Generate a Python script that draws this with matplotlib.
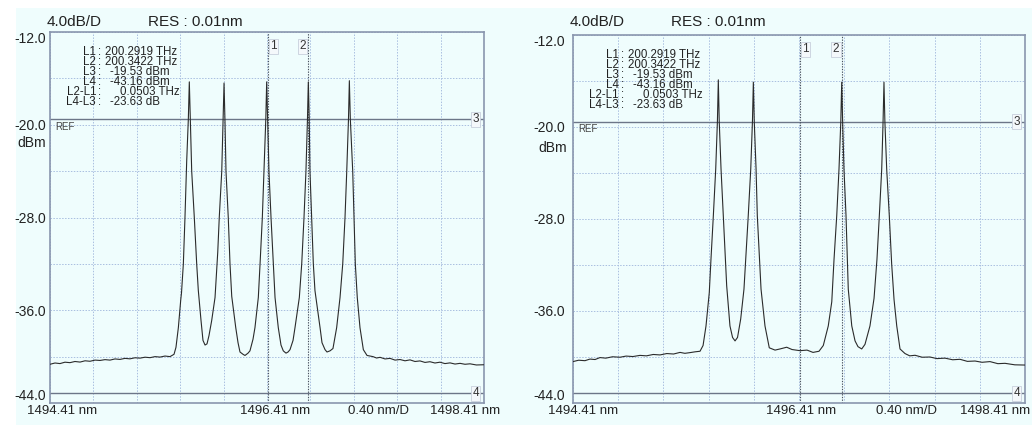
import matplotlib.pyplot as plt
import matplotlib.transforms as mtransforms
from matplotlib.patches import Rectangle
import numpy as np

# ---- data ----
x_start, x_center, x_stop = 1494.41, 1496.41, 1498.41
y_top, y_bottom = -12.0, -44.0
y_labels = ["-44.0", "", "-36.0", "", "-28.0", "", "-20.0", "", "-12.0"]

L3 = -19.53
L4 = -43.16
marker1 = 1496.415
marker2 = 1496.791

info_keys = ["L1", "L2", "L3", "L4", "L2-L1", "L4-L3"]
info_vals = ["200.2919 THz", "200.3422 THz", "-19.53 dBm", "-43.16 dBm",
             "0.0503 THz", "-23.63 dB"]

left_wl = [1494.410, 1494.456, 1494.502, 1494.548, 1494.594, 1494.640, 1494.687,
           1494.733, 1494.779, 1494.825, 1494.871, 1494.917, 1494.963, 1495.009,
           1495.055, 1495.101, 1495.147, 1495.193, 1495.240, 1495.286, 1495.332,
           1495.378, 1495.424, 1495.470, 1495.516, 1495.553, 1495.571, 1495.593,
           1495.615, 1495.622, 1495.639, 1495.654, 1495.670, 1495.685, 1495.694,
           1495.703, 1495.716, 1495.740, 1495.762, 1495.777, 1495.802, 1495.820,
           1495.839, 1495.857, 1495.875, 1495.900, 1495.931, 1495.956, 1495.970,
           1495.993, 1496.005, 1496.014, 1496.023, 1496.032, 1496.053, 1496.069,
           1496.085, 1496.122, 1496.143, 1496.161, 1496.189, 1496.207, 1496.235,
           1496.253, 1496.281, 1496.299, 1496.330, 1496.346, 1496.367, 1496.382,
           1496.399, 1496.407, 1496.416, 1496.428, 1496.447, 1496.468, 1496.484,
           1496.514, 1496.539, 1496.560, 1496.585, 1496.604, 1496.622, 1496.650,
           1496.668, 1496.708, 1496.730, 1496.751, 1496.769, 1496.783, 1496.791,
           1496.799, 1496.806, 1496.822, 1496.837, 1496.852, 1496.899, 1496.917,
           1496.945, 1496.963, 1496.991, 1497.018, 1497.037, 1497.052, 1497.083,
           1497.108, 1497.129, 1497.145, 1497.161, 1497.169, 1497.178, 1497.200,
           1497.212, 1497.224, 1497.242, 1497.267, 1497.298, 1497.332, 1497.387,
           1497.420, 1497.452, 1497.498, 1497.544, 1497.590, 1497.636, 1497.682,
           1497.728, 1497.774, 1497.820, 1497.866, 1497.912, 1497.958, 1498.004,
           1498.050, 1498.097, 1498.143, 1498.189, 1498.235, 1498.281, 1498.340,
           1498.410]
left_db = [-40.66, -40.55, -40.60, -40.48, -40.52, -40.42, -40.47,
           -40.36, -40.40, -40.30, -40.33, -40.26, -40.30, -40.20,
           -40.24, -40.15, -40.19, -40.10, -40.13, -40.05, -40.09,
           -40.00, -40.04, -39.95, -40.00, -39.80, -39.20, -37.50,
           -35.10, -34.50, -32.00, -28.00, -23.10, -19.50, -16.30,
           -19.50, -24.00, -28.00, -32.00, -34.30, -36.90, -38.60,
           -39.00, -38.90, -38.20, -36.90, -34.90, -31.00, -28.00,
           -24.00, -19.50, -16.40, -19.80, -24.00, -28.00, -32.00,
           -34.80, -37.50, -38.80, -39.60, -39.80, -39.90, -39.70,
           -39.50, -38.50, -37.50, -34.90, -32.00, -28.00, -24.00,
           -19.50, -16.30, -19.50, -24.00, -28.00, -32.00, -34.90,
           -37.50, -39.00, -39.50, -39.70, -39.60, -39.40, -38.60,
           -37.50, -34.90, -32.00, -28.00, -24.00, -19.50, -16.30,
           -19.50, -24.00, -28.00, -32.00, -34.30, -37.50, -38.80,
           -39.40, -39.60, -39.50, -39.30, -38.30, -37.50, -34.90,
           -32.00, -28.00, -24.00, -19.50, -16.20, -19.50, -24.00,
           -28.00, -32.00, -34.90, -37.50, -39.40, -39.90, -40.00,
           -40.12, -40.06, -40.20, -40.15, -40.30, -40.25, -40.36,
           -40.28, -40.42, -40.37, -40.50, -40.44, -40.55, -40.48,
           -40.60, -40.54, -40.64, -40.58, -40.66, -40.62, -40.72,
           -40.70]

right_wl = [1494.410, 1494.460, 1494.516, 1494.560, 1494.605, 1494.649, 1494.700,
            1494.760, 1494.826, 1494.880, 1494.940, 1495.003, 1495.060, 1495.120,
            1495.180, 1495.240, 1495.300, 1495.357, 1495.400, 1495.445, 1495.490,
            1495.534, 1495.561, 1495.587, 1495.616, 1495.631, 1495.652, 1495.673,
            1495.688, 1495.696, 1495.704, 1495.720, 1495.740, 1495.770, 1495.799,
            1495.822, 1495.844, 1495.866, 1495.894, 1495.923, 1495.961, 1495.983,
            1495.998, 1496.006, 1496.014, 1496.030, 1496.041, 1496.074, 1496.109,
            1496.147, 1496.198, 1496.242, 1496.301, 1496.348, 1496.419, 1496.481,
            1496.534, 1496.587, 1496.625, 1496.669, 1496.700, 1496.720, 1496.744,
            1496.764, 1496.780, 1496.788, 1496.796, 1496.808, 1496.826, 1496.846,
            1496.877, 1496.906, 1496.932, 1496.965, 1496.994, 1497.038, 1497.074,
            1497.100, 1497.121, 1497.142, 1497.154, 1497.162, 1497.170, 1497.186,
            1497.209, 1497.230, 1497.251, 1497.275, 1497.304, 1497.348, 1497.390,
            1497.437, 1497.500, 1497.569, 1497.630, 1497.702, 1497.770, 1497.835,
            1497.900, 1497.968, 1498.030, 1498.100, 1498.170, 1498.233, 1498.320,
            1498.410]
right_db = [-40.40, -40.28, -40.32, -40.18, -40.22, -40.05, -40.10,
            -39.98, -40.02, -39.92, -39.96, -39.86, -39.90, -39.78,
            -39.82, -39.70, -39.74, -39.60, -39.68, -39.62, -39.55,
            -39.50, -39.00, -37.30, -34.40, -31.50, -27.70, -23.65,
            -19.50, -15.90, -19.50, -23.65, -27.70, -33.80, -37.30,
            -38.30, -38.60, -38.30, -36.70, -34.10, -27.70, -23.65,
            -19.50, -16.10, -19.50, -23.65, -27.70, -34.10, -37.30,
            -39.20, -39.40, -39.30, -39.15, -39.35, -39.45, -39.40,
            -39.60, -39.50, -39.00, -37.30, -35.20, -31.50, -27.70,
            -23.65, -19.50, -16.10, -19.50, -23.65, -27.70, -34.10,
            -37.30, -38.60, -39.10, -39.30, -38.90, -37.30, -34.90,
            -31.50, -27.70, -23.65, -19.50, -16.10, -19.50, -23.65,
            -27.70, -31.90, -35.00, -37.30, -39.30, -39.70, -39.90,
            -39.85, -40.02, -40.00, -40.14, -40.10, -40.24, -40.20,
            -40.38, -40.35, -40.46, -40.40, -40.58, -40.55, -40.68,
            -40.70]

W, H = 1032, 425
bg = "#effdfd"
grid_c = "#a9bfe0"
frame_c = "#8a96ae"
line_c = "#6c7688"
trace_c = "#2b2b2b"
txt_c = "#222222"
font = ["Liberation Sans", "DejaVu Sans"]

fig = plt.figure(figsize=(W / 100, H / 100), dpi=100)
fig.patch.set_facecolor("white")
fig.patches.append(Rectangle((16 / W, 0), (W - 16) / W, 1 - 8 / H,
                             transform=fig.transFigure, facecolor=bg,
                             edgecolor="none", zorder=-10))


def fx(x):
    return x / W


def fy(y):
    return 1 - y / H


def panel(frame, wl, db, opts):
    x0, y0, x1, y1 = frame
    ax = fig.add_axes([fx(x0), fy(y1), fx(x1 - x0), (y1 - y0) / H])
    ax.set_facecolor("none")
    ax.set_xlim(x_start, x_stop)
    ax.set_ylim(y_bottom, y_top)
    ax.set_xticks(np.linspace(x_start, x_stop, 11))
    ax.set_xticklabels([])
    ax.set_yticks(np.arange(y_bottom, y_top + 1, 4))
    ax.set_yticklabels(y_labels, family=font, fontsize=10, color=txt_c)
    ax.tick_params(length=0, pad=opts["ypad"])
    labs = ax.get_yticklabels()
    labs[0].set_va("bottom")
    labs[-1].set_va("top")
    ax.grid(True, color=grid_c, lw=0.7, ls=(0, (1.5, 1.5)))
    for s in ax.spines.values():
        s.set_color(frame_c)
        s.set_linewidth(1.2)

    ax.plot(wl, db, color=trace_c, lw=0.8, zorder=3)

    # level markers L3 / L4
    ax.axhline(L3, color=line_c, lw=1.0, zorder=2)
    ax.axhline(L4, color=line_c, lw=1.0, zorder=2)
    # wavelength markers 1 / 2
    ax.axvline(marker1, color="#4a5260", lw=0.8, ls=(0, (1.2, 1.2)), zorder=2)
    ax.axvline(marker2, color="#4a5260", lw=0.8, ls=(0, (1.2, 1.2)), zorder=2)

    box = dict(boxstyle="square,pad=0.12", fc="#f4f8fb", ec="#c8d0dc", lw=0.6)
    tr_right = mtransforms.blended_transform_factory(ax.transAxes, ax.transData)
    ax.annotate("1", xy=(marker1, y_top), xytext=(2, -6), textcoords="offset points",
                fontsize=8.5, family=font, va="top", ha="left", bbox=box, color="#333333")
    ax.annotate("2", xy=(marker2, y_top), xytext=(-2, -6), textcoords="offset points",
                fontsize=8.5, family=font, va="top", ha="right", bbox=box, color="#333333")
    ax.annotate("3", xy=(1, L3), xycoords=tr_right, xytext=(-6, 0),
                textcoords="offset points", fontsize=8.5, family=font, va="center",
                ha="center", bbox=box, color="#333333")
    ax.annotate("4", xy=(1, L4), xycoords=tr_right, xytext=(-6, 0),
                textcoords="offset points", fontsize=8.5, family=font, va="center",
                ha="center", bbox=box, color="#333333")
    ax.annotate("REF", xy=(0, L3), xycoords=tr_right, xytext=(4, -2),
                textcoords="offset points", fontsize=7, family=font, va="top",
                ha="left", color="#444444")

    # info block
    offs = [55, 55, 60, 60, 70, 60]
    for i, (k, v) in enumerate(zip(info_keys, info_vals)):
        yy = y0 + 20 + 10 * i
        fig.text(fx(x0 + 46), fy(yy), k, family=font, fontsize=8.3,
                 ha="right", va="center", color=txt_c)
        fig.text(fx(x0 + 50), fy(yy), ":", family=font, fontsize=8.3,
                 ha="center", va="center", color=txt_c)
        fig.text(fx(x0 + offs[i]), fy(yy), v, family=font, fontsize=8.3,
                 ha="left", va="center", color=txt_c)

    # header and units
    fig.text(fx(x0 - 3), fy(22), "4.0dB/D", family=font, fontsize=11,
             ha="left", va="center", color=txt_c)
    fig.text(fx(x0 + 98), fy(22), "RES : 0.01nm", family=font, fontsize=11,
             ha="left", va="center", color=txt_c)
    fig.text(fx(opts["dbm_x"]), fy(opts["dbm_y"]), "dBm", family=font,
             fontsize=10, ha="right", va="center", color=txt_c)

    # bottom wavelength labels
    by = fy(y1 + 2)
    bx = opts["bx"]
    fig.text(fx(bx[0]), by, f"{x_start:.2f} nm", family=font,
             fontsize=9.5, ha="left", va="top", color=txt_c)
    fig.text(fx(bx[1]), by, f"{x_center:.2f} nm", family=font,
             fontsize=9.5, ha="center", va="top", color=txt_c)
    fig.text(fx(bx[2]), by, "0.40 nm/D", family=font,
             fontsize=9.5, ha="center", va="top", color=txt_c)
    fig.text(fx(bx[3]), by, f"{x_stop:.2f} nm", family=font,
             fontsize=9.5, ha="right", va="top", color=txt_c)
    return ax


panel((50, 32, 484, 403), left_wl, left_db,
      {"ypad": 3, "dbm_x": 46, "dbm_y": 143, "bx": (27, 275, 378, 500)})
panel((573, 35, 1025, 403), right_wl, right_db,
      {"ypad": 6, "dbm_x": 567, "dbm_y": 148, "bx": (548, 801, 907, 1030)})

fig.savefig("out.png", dpi=100)
